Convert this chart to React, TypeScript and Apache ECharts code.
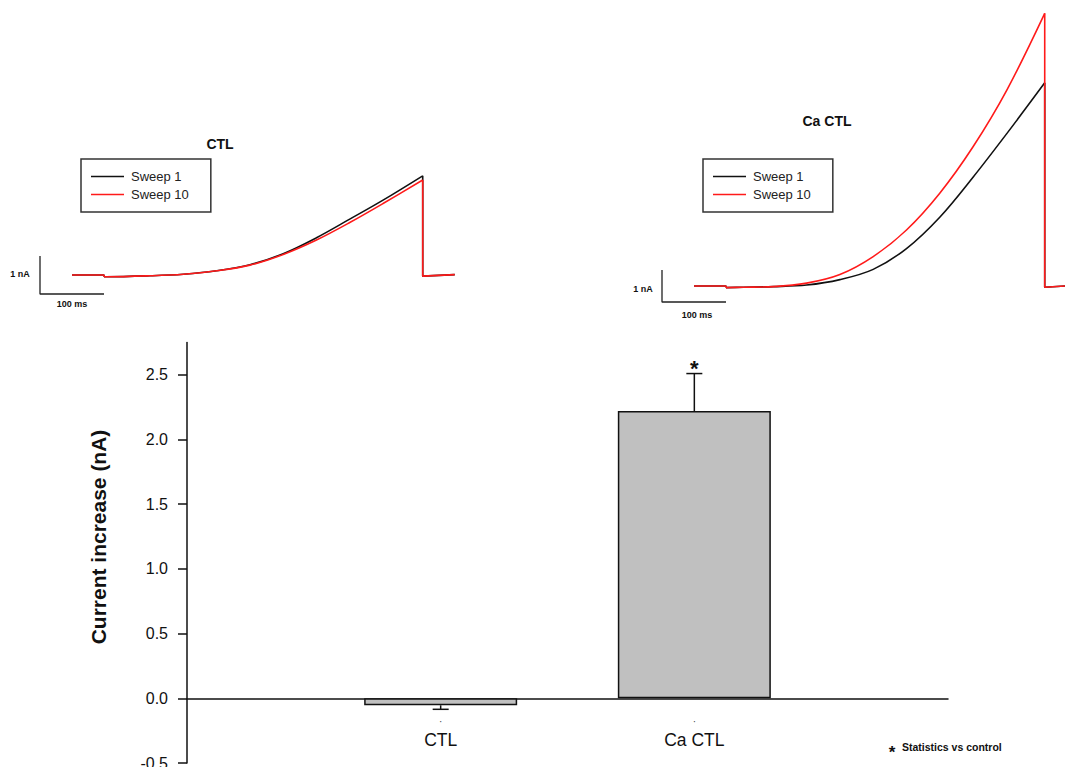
import React, { useEffect, useRef } from "react";
import * as echarts from "echarts";

// ---- Trace data: [time (ms), current (nA)] ----
const ctlSweep1: [number, number][] = [
  [0, 0], [50, 0], [50, -0.045],
  [54, -0.045], [122, -0.02], [174, 0.02], [226, 0.11], [278, 0.27], [330, 0.56], [382, 0.98], [434, 1.47], [486, 1.97], [548, 2.61],
  [548, -0.03], [598, 0.01],
];
const ctlSweep10: [number, number][] = [
  [0, 0], [50, 0], [50, -0.045],
  [54, -0.045], [122, -0.02], [174, 0.02], [226, 0.11], [278, 0.26], [330, 0.54], [382, 0.92], [434, 1.38], [486, 1.88], [548, 2.5],
  [548, -0.03], [598, 0.01],
];
const caSweep1: [number, number][] = [
  [0, 0], [50, 0], [50, -0.05],
  [77, -0.04], [124, -0.02], [176, 0.03], [228, 0.2], [280, 0.52], [332, 1.17], [384, 2.15], [436, 3.4], [489, 4.77], [548, 6.35],
  [548, -0.04], [580, 0],
];
const caSweep10: [number, number][] = [
  [0, 0], [50, 0], [50, -0.05],
  [77, -0.04], [124, -0.02], [176, 0.09], [228, 0.36], [280, 0.92], [332, 1.75], [384, 2.9], [436, 4.35], [489, 6.13], [548, 8.52],
  [548, -0.04], [580, 0],
];
const scaleBar: [number, number][] = [[-50, 0.5], [-50, -0.5], [50, -0.5]];
const sweepNames = ["Sweep 1", "Sweep 10"];

// ---- Bar chart data ----
const categories = ["", "CTL", "Ca CTL", ""];
const barMeans = [null, -0.054, 2.22, null];
const barErrors = [null, 0.031, 0.29, null];
const significant = [false, false, true, false];
const yTicks = [-0.5, 0, 0.5, 1.0, 1.5, 2.0, 2.5];

const FONT = '"Liberation Sans", Arial, sans-serif';

function splitTrace(d: [number, number][]) {
  const n = d.length;
  const edges: any[] = [...d.slice(0, 3), null, ...d.slice(n - 3)];
  const curve = d.slice(2, n - 2);
  return { edges, curve };
}

function traceSeries(data: [number, number][], name: string, color: string, gi: number) {
  const { edges, curve } = splitTrace(data);
  const common = {
    type: "line" as const,
    name,
    xAxisIndex: gi,
    yAxisIndex: gi,
    symbol: "none",
    showSymbol: false,
    clip: false,
    lineStyle: { color, width: 1.6 },
    itemStyle: { color },
    emphasis: { disabled: true },
  };
  return [
    { ...common, data: curve, smooth: 0.35 },
    { ...common, data: edges, connectNulls: false },
  ];
}

function scaleSeries(gi: number) {
  return {
    type: "line",
    name: "scale",
    xAxisIndex: gi,
    yAxisIndex: gi,
    symbol: "none",
    clip: false,
    data: scaleBar,
    lineStyle: { color: "#222", width: 1.3 },
    emphasis: { disabled: true },
  };
}

function legendAt(left: number) {
  return {
    left,
    top: 159,
    orient: "vertical",
    data: sweepNames,
    selectedMode: false,
    icon: "rect",
    borderColor: "#333",
    borderWidth: 1.5,
    borderRadius: 0,
    padding: [11, 22, 11, 10],
    itemGap: 5,
    itemWidth: 33,
    itemHeight: 1.6,
    textStyle: { fontSize: 13, color: "#222", fontFamily: FONT, padding: [0, 0, 0, 2] },
  };
}

function txt(x: number, y: number, text: string, size: number, bold = true, align = "center", rotation = 0) {
  return {
    type: "text",
    x,
    y,
    rotation,
    silent: true,
    style: {
      text,
      fill: "#111",
      fontSize: size,
      fontWeight: bold ? "bold" : "normal",
      fontFamily: FONT,
      align,
      verticalAlign: "middle",
    },
  };
}

export default function App() {
  const ref = useRef<HTMLDivElement>(null);
  useEffect(() => {
    document.body.style.margin = "0";
    if (!ref.current) return;
    const chart = echarts.init(ref.current, null, { renderer: "svg" });

    const hiddenX = (min: number, max: number, gi: number) => ({
      type: "value", gridIndex: gi, min, max, show: false,
    });
    const hiddenY = (min: number, max: number, gi: number) => ({
      type: "value", gridIndex: gi, min, max, show: false,
    });

    const yMin = -0.5;
    const yMax = 2.75;
    const barGridTop = 342.5;
    const barGridBottom = 4;
    const plotH = 767 - barGridTop - barGridBottom;
    const zeroOffset = -(plotH * (0 - yMin)) / (yMax - yMin);

    const option: any = {
      animation: false,
      backgroundColor: "#fff",
      grid: [
        { left: 8, top: 142, width: 480, height: 171, outerBoundsMode: "none" },
        { left: 630, top: 1.2, width: 435.2, height: 316.8, outerBoundsMode: "none" },
        { left: 187, top: barGridTop, right: 117, bottom: barGridBottom, outerBoundsMode: "none" },
      ],
      legend: [legendAt(81), legendAt(703)],
      xAxis: [
        hiddenX(-100, 650, 0),
        hiddenX(-100, 580, 1),
        {
          type: "category",
          gridIndex: 2,
          position: "bottom",
          offset: zeroOffset,
          data: categories,
          boundaryGap: false,
          axisLine: { onZero: false, lineStyle: { color: "#111", width: 1.5 } },
          axisTick: { show: false },
          axisLabel: {
            interval: 0,
            margin: 15,
            formatter: (v: string) => (v ? `{d|·}\n{n|${v}}` : ""),
            rich: {
              d: { fontSize: 10, lineHeight: 16, color: "#444", fontFamily: FONT },
              n: { fontSize: 17.5, lineHeight: 22, color: "#111", fontFamily: FONT },
            },
          },
        },
      ],
      yAxis: [
        hiddenY(-1, 3.5, 0),
        hiddenY(-1, 8.9, 1),
        {
          type: "value",
          gridIndex: 2,
          min: yMin,
          max: yMax,
          interval: 0.5,
          splitLine: { show: false },
          axisLine: { show: true, onZero: false, lineStyle: { color: "#111", width: 1.5 } },
          axisTick: { show: true, length: 9, lineStyle: { color: "#111", width: 1.5 }, customValues: yTicks },
          axisLabel: {
            margin: 19,
            fontSize: 16,
            color: "#111",
            fontFamily: FONT,
            customValues: yTicks,
            formatter: (v: number) => v.toFixed(1),
          },
        },
      ],
      series: [
        ...traceSeries(ctlSweep1, sweepNames[0], "#111", 0),
        ...traceSeries(ctlSweep10, sweepNames[1], "#ff1a1a", 0),
        scaleSeries(0),
        ...traceSeries(caSweep1, sweepNames[0], "#111", 1),
        ...traceSeries(caSweep10, sweepNames[1], "#ff1a1a", 1),
        scaleSeries(1),
        {
          type: "bar",
          xAxisIndex: 2,
          yAxisIndex: 2,
          data: barMeans,
          barWidth: 153,
          itemStyle: { color: "#c0c0c0", borderColor: "#111", borderWidth: 1.5 },
          emphasis: { disabled: true },
        },
        {
          type: "custom",
          xAxisIndex: 2,
          yAxisIndex: 2,
          z: 5,
          data: barMeans
            .map((m, i) => (m === null ? null : [i, m, barErrors[i], significant[i] ? 1 : 0]))
            .filter((d) => d !== null),
          renderItem: (params: any, api: any) => {
            const idx = api.value(0);
            const mean = api.value(1);
            const err = api.value(2);
            const sig = api.value(3);
            const end = mean + (mean >= 0 ? err : -err);
            const p0 = api.coord([idx, mean]);
            const p1 = api.coord([idx, end]);
            const st = { stroke: "#111", lineWidth: 1.5 };
            const children: any[] = [
              { type: "line", shape: { x1: p0[0], y1: p0[1], x2: p1[0], y2: p1[1] }, style: st },
              { type: "line", shape: { x1: p1[0] - 8, y1: p1[1], x2: p1[0] + 8, y2: p1[1] }, style: st },
            ];
            if (sig) {
              children.push({
                type: "text",
                x: p1[0],
                y: p1[1] - 5,
                style: {
                  text: "*",
                  fill: "#111",
                  fontSize: 22,
                  fontWeight: "bold",
                  fontFamily: FONT,
                  align: "center",
                  verticalAlign: "middle",
                },
              });
            }
            return { type: "group", children };
          },
        },
      ],
      graphic: [
        txt(220, 144, "CTL", 14),
        txt(827, 121, "Ca CTL", 14),
        txt(20, 274, "1 nA", 9),
        txt(72, 304, "100 ms", 9),
        txt(643, 289, "1 nA", 9),
        txt(697, 315, "100 ms", 9),
        txt(98, 537, "Current increase (nA)", 21, true, "center", Math.PI / 2),
        txt(892, 752, "*", 17),
        txt(902, 747, "Statistics vs control", 10.5, true, "left"),
      ],
    };
    chart.setOption(option);
    return () => chart.dispose();
  }, []);
  return <div ref={ref} style={{ width: 1065, height: 767 }} />;
}
